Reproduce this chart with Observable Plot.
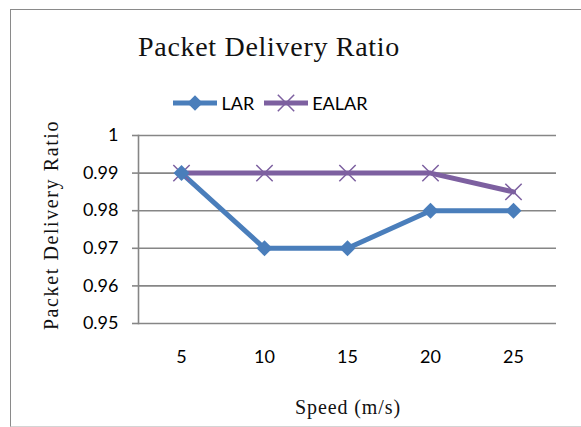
<!DOCTYPE html>
<html>
<head>
<meta charset="utf-8">
<script src="https://cdn.jsdelivr.net/npm/d3@7"></script>
<script src="https://cdn.jsdelivr.net/npm/@observablehq/plot@0.6"></script>
<style>
  html, body { margin: 0; padding: 0; background: #fff; overflow: hidden; }
  #wrap { position: relative; width: 581px; height: 427px; overflow: hidden; }
  #border { position: absolute; left: 10px; top: 9px; width: 620px; height: 416px;
            border-top: 1px solid #8a8a8a; border-left: 1px solid #8a8a8a; border-bottom: 1px solid #d4d4d4; }
  .serif { font-family: "Liberation Serif", serif; color: #111; position: absolute; white-space: nowrap; }
  #title { font-size: 28px; letter-spacing: 0.7px; left: 0; width: 538px; text-align: center; top: 31px; }
  #ytitle { font-size: 20px; letter-spacing: 1.6px; left: 51px; top: 225px; transform: translate(-50%, -50%) rotate(-90deg); }
  #xtitle { font-size: 20px; letter-spacing: 0.9px; left: 348px; top: 396px; transform: translateX(-50%); }
  #legend { position: absolute; top: 92px; left: 0; width: 541px; display: flex; justify-content: center;
            align-items: center; font-family: Lato, sans-serif; font-size: 18px; color: #000; }
  #legend .item { display: flex; align-items: center; margin: 0 5px; }
  #legend svg { margin-right: 4px; }
  #chart { position: absolute; left: 0; top: 0; }
</style>
</head>
<body>
<div id="wrap">
  <div id="border"></div>
  <div id="chart"></div>
  <div id="title" class="serif"></div>
  <div id="legend"></div>
  <div id="ytitle" class="serif"></div>
  <div id="xtitle" class="serif"></div>
</div>
<script>
const titleText = "Packet Delivery Ratio";
const yTitle = "Packet Delivery Ratio";
const xTitle = "Speed (m/s)";
const speeds = [5, 10, 15, 20, 25];
const lar = [0.99, 0.97, 0.97, 0.98, 0.98];
const ealar = [0.99, 0.99, 0.99, 0.99, 0.985];
const yTicks = [0.95, 0.96, 0.97, 0.98, 0.99, 1];
const seriesNames = ["LAR", "EALAR"];
const seriesColors = ["#4A7EBB", "#7D60A0"];

document.getElementById("title").textContent = titleText;
document.getElementById("ytitle").textContent = yTitle;
document.getElementById("xtitle").textContent = xTitle;

const larData = speeds.map((s, i) => ({speed: s, value: lar[i]}));
const ealarData = speeds.map((s, i) => ({speed: s, value: ealar[i]}));

const chart = Plot.plot({
  width: 581,
  height: 427,
  marginLeft: 138,
  marginRight: 25,
  marginTop: 135,
  marginBottom: 104,
  style: {fontFamily: "Lato, sans-serif", fontSize: "18px", color: "#000", background: "transparent"},
  x: {type: "point", domain: speeds, padding: 0.5, label: null},
  y: {domain: [0.95, 1], label: null},
  marks: [
    Plot.ruleY(yTicks, {stroke: "#868686", strokeWidth: 1.6}),
    Plot.frame({anchor: "left", stroke: "#868686", strokeWidth: 1.6}),
    Plot.axisY({ticks: yTicks, tickSize: 6, tickPadding: 14, stroke: "#868686", strokeWidth: 1.6,
                tickFormat: d => String(+d.toFixed(3)), label: null}),
    Plot.axisX({tickSize: 0, tickPadding: 27, label: null}),
    Plot.line(larData, {x: "speed", y: "value", stroke: seriesColors[0], strokeWidth: 5}),
    Plot.line(ealarData, {x: "speed", y: "value", stroke: seriesColors[1], strokeWidth: 5}),
    Plot.dot(ealarData, {x: "speed", y: "value", symbol: "times", r: 7.5, stroke: seriesColors[1], strokeWidth: 1.5}),
    Plot.dot(larData, {x: "speed", y: "value", symbol: "diamond2", r: 7.2, fill: seriesColors[0], stroke: "none"})
  ]
});
document.getElementById("chart").appendChild(chart);

// legend
const legend = document.getElementById("legend");
seriesNames.forEach((name, i) => {
  const item = document.createElement("div");
  item.className = "item";
  const svg = d3.create("svg").attr("width", 44).attr("height", 18);
  svg.append("line").attr("x1", 0).attr("x2", 44).attr("y1", 9).attr("y2", 9)
    .attr("stroke", seriesColors[i]).attr("stroke-width", 5);
  if (i === 0) {
    svg.append("path").attr("d", d3.symbol(d3.symbolDiamond2, Math.PI * 7 * 7)())
      .attr("transform", "translate(22,9)").attr("fill", seriesColors[i]);
  } else {
    svg.append("path").attr("d", d3.symbol(d3.symbolTimes, Math.PI * 7.5 * 7.5)())
      .attr("transform", "translate(22,9)").attr("fill", "none").attr("stroke", seriesColors[i]).attr("stroke-width", 1.5);
  }
  item.appendChild(svg.node());
  const label = document.createElement("span");
  label.textContent = name;
  item.appendChild(label);
  legend.appendChild(item);
});
</script>
</body>
</html>
